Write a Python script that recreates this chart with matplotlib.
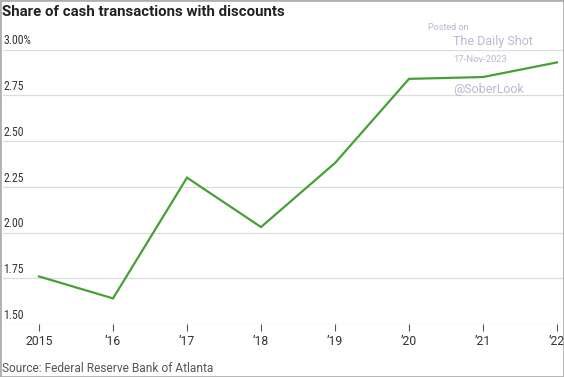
import matplotlib
matplotlib.use('Agg')
import matplotlib.pyplot as plt
import matplotlib.transforms as mtransforms
from matplotlib.patches import Rectangle

years = [2015, 2016, 2017, 2018, 2019, 2020, 2021, 2022]
share = [1.76, 1.64, 2.30, 2.03, 2.38, 2.84, 2.85, 2.93]
xlabels = ['2015', '\u201916', '\u201917', '\u201918', '\u201919', '\u201920', '\u201921', '\u201922']
yticks = [1.50, 1.75, 2.00, 2.25, 2.50, 2.75, 3.00]
ylabels = ['1.50', '1.75', '2.00', '2.25', '2.50', '2.75', '3.00%']

plt.rcParams['font.family'] = ['Roboto', 'DejaVu Sans']

W, H = 564, 377
fig = plt.figure(figsize=(W / 100, H / 100), dpi=100)
# axes from x=3 to right edge, 1.50 at y=324, 3.00 at y=49.6
ax = fig.add_axes([3 / W, 1 - 324 / H, 1 - 3 / W, (324 - 49.6) / H])

ax.plot(years, share, color='#45a035', lw=1.6, solid_joinstyle='miter', clip_on=False)

ax.set_xlim(2015 - 36 / 74, 2022 + 7 / 74)
ax.set_ylim(1.5, 3.0)
for s in ax.spines.values():
    s.set_visible(False)
for v in yticks:
    ax.axhline(v, color='#dcdcdc' if v > 1.5 else '#c8c8c8', lw=0.9, zorder=0)

trans = mtransforms.blended_transform_factory(ax.transAxes, ax.transData)
for v, lab in zip(yticks, ylabels):
    ax.text(0.0, v + 0.012, lab, transform=trans, ha='left', va='bottom',
            fontsize=8.5, color='#333333', family=['Roboto Condensed', 'Roboto', 'DejaVu Sans'])
ax.set_yticks([])
ax.set_xticks(years)
ax.set_xticklabels(xlabels, fontsize=8.8, color='#333333')
ax.tick_params(axis='x', length=5, width=0.8, color='#555555', pad=3)

fig.text(2 / W, 1 - 12 / H, 'Share of cash transactions with discounts', fontsize=10.8,
         fontweight='bold', color='#222222', ha='left', va='center')
fig.text(2 / W, 1 - 368 / H, 'Source: Federal Reserve Bank of Atlanta', fontsize=8.6,
         color='#555555', ha='left', va='center')

wm = '#b8b8d4'
fig.text(428 / W, 1 - 27 / H, 'Posted on', fontsize=6.5, color=wm, ha='left', va='center')
fig.text(453 / W, 1 - 42 / H, 'The Daily Shot', fontsize=9, color=wm, ha='left', va='center')
fig.text(453 / W, 1 - 60 / H, '17-Nov-2023', fontsize=6.8, color=wm, ha='left', va='center')
fig.text(453 / W, 1 - 89 / H, '@SoberLook', fontsize=9, color=wm, ha='left', va='center')

fig.patches.append(Rectangle((0, 0), 1, 1, transform=fig.transFigure, fill=False,
                             edgecolor='#b0b0b0', lw=2))

fig.savefig('out.png', dpi=100)
